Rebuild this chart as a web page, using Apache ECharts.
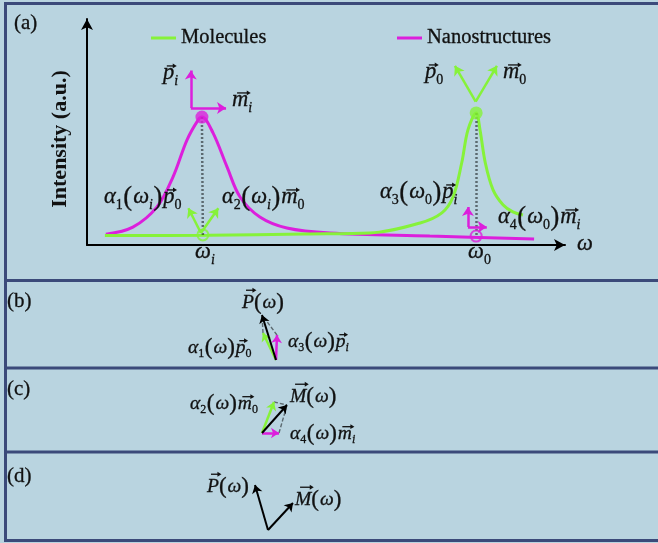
<!DOCTYPE html>
<html><head><meta charset="utf-8">
<script src="https://cdn.jsdelivr.net/npm/echarts@6/dist/echarts.min.js"></script>
<style>html,body{margin:0;padding:0;background:#b9d4e0}#c{width:658px;height:543px}</style>
</head><body><div id="c"></div>
<script>
// ---------------- data ----------------
// Panel (a): spectra (arbitrary units, x = ω, y = intensity)
const nanoCurve = [[3.9,4.7],[9.5,7.8],[14.5,16.6],[17.8,29.6],[20.7,45.7],[23.0,54.4],[23.8,55.7],[26.1,48.8],[29.0,34.0],[31.7,20.9],[35.8,12.2],[41.4,7.4],[50.3,5.2],[71.0,3.9],[92.6,2.6]];
const molCurve = [[3.7,4.1],[25,4.2],[45,4.8],[58.6,5.2],[69.0,9.6],[73.5,14.0],[75.8,20.9],[77.6,35.7],[78.9,50.1],[80.6,57.5],[81.4,50.1],[82.5,35.7],[84.1,24.0],[86.2,17.4],[88.2,14.4],[90.3,13.1]];
const nanoPeak = [23.8,55.7];
const molPeak = [80.6,57.5];
const molAtOmegaI = [24.0,4.4];
const nanoAtOmega0 = [80.6,3.9];
// dipole vectors in panel (a): [start, end]
const nanoVecsA = [[[21.5,59.7],[21.5,76.0]],[[21.5,59.7],[28.8,59.7]],[[78.9,7.8],[78.9,16.5]],[[78.9,7.8],[82.8,7.8]]];
const molVecsA = [[[23.6,5.2],[21.0,16.0]],[[23.6,5.2],[27.2,16.0]],[[80.5,62.4],[76.2,78.0]],[[80.5,62.4],[84.9,78.0]]];
// panels (b)-(d): vectors from the origin
const bP = [-14,45], bA1p0 = [-13,27], bA3pi = [1,25];
const cM = [25,28], cA2m0 = [12,31], cA4mi = [17,0];
const dP = [-13,45], dM = [25,27];

// ---------------- style ----------------
const GREEN = '#86f23a', MAG = '#dc1fdc', INK = '#111', BORDER = '#3b4a7a';
const SERIF = '"Liberation Serif", "Times New Roman", serif';

const mctx = document.createElement('canvas').getContext('2d');
function tok(t,o){return Object.assign({t},o||{});}
const it = t=>tok(t,{it:true}), rm = t=>tok(t,{}), sb = t=>tok(t,{sub:true}), sbi = t=>tok(t,{sub:true,it:true});
const vec = t=>tok(t,{it:true,vec:true}), Vec = t=>tok(t,{it:true,vec:true,cap:true});
const lp = tok('(',{big:true,gap:1}), rp = tok(')',{big:true,gap:1});
function mathLabel(x0, base, toks, fs){
  const els=[]; let x=x0;
  toks.forEach(p=>{
    const size = Math.round((p.sub ? fs*0.62 : p.big ? fs*1.18 : fs)*2)/2;
    const st = p.it ? 'italic' : 'normal';
    mctx.font = st+' normal '+size+'px '+SERIF;
    const w = mctx.measureText(p.t).width;
    const b = base + (p.sub ? fs*0.22 : p.big ? fs*0.08 : 0);
    els.push({type:'text', x:x, y:b-0.3375*size, z:50, style:{text:p.t, fontSize:size, fontStyle:st, fontFamily:SERIF, fill:INK, stroke:INK, lineWidth:0.3, align:'left', verticalAlign:'middle'}});
    if(p.vec){
      const ay = base - (p.cap?0.86:0.58)*fs - 2;
      const ax1 = x + w*0.25 + 1, ax2 = x + w + 1.5;
      els.push({type:'line', z:50, shape:{x1:ax1,y1:ay,x2:ax2-1,y2:ay}, style:{stroke:INK, lineWidth:1.3}});
      els.push({type:'polygon', z:50, shape:{points:[[ax2+1,ay],[ax2-3,ay-2.4],[ax2-3,ay+2.4]]}, style:{fill:INK}});
    }
    x += w + (p.gap||0) + (p.sub?0.5:0);
  });
  return els;
}
const A = 22.5, B = 19.5;
let labels = [];
labels = labels.concat(
  mathLabel(14,31,[rm('('),rm('a'),rm(')')],21),
  mathLabel(7,309,[rm('('),rm('b'),rm(')')],21),
  mathLabel(7,397,[rm('('),rm('c'),rm(')')],21),
  mathLabel(7,484,[rm('('),rm('d'),rm(')')],21),
  mathLabel(163,81,[vec('p'),sbi('i')],A),
  mathLabel(232,108,[vec('m'),sbi('i')],A),
  mathLabel(104,205,[it('α'),sb('1'),lp,it('ω'),sbi('i'),rp,vec('p'),sb('0')],A),
  mathLabel(222,205,[it('α'),sb('2'),lp,it('ω'),sbi('i'),rp,vec('m'),sb('0')],A),
  mathLabel(425,80,[vec('p'),sb('0')],A),
  mathLabel(503,80,[vec('m'),sb('0')],A),
  mathLabel(380,200,[it('α'),sb('3'),lp,it('ω'),sb('0'),rp,vec('p'),sbi('i')],A),
  mathLabel(498,225,[it('α'),sb('4'),lp,it('ω'),sb('0'),rp,vec('m'),sbi('i')],A),
  mathLabel(195,260,[it('ω'),sbi('i')],A),
  mathLabel(468,260,[it('ω'),sb('0')],A),
  mathLabel(577,252,[it('ω')],A),
  mathLabel(242,309,[Vec('P'),lp,it('ω'),rp],B),
  mathLabel(188,354,[it('α'),sb('1'),lp,it('ω'),rp,vec('p'),sb('0')],B),
  mathLabel(288,348,[it('α'),sb('3'),lp,it('ω'),rp,vec('p'),sbi('i')],B),
  mathLabel(290,403,[Vec('M'),lp,it('ω'),rp],B),
  mathLabel(190,410,[it('α'),sb('2'),lp,it('ω'),rp,vec('m'),sb('0')],B),
  mathLabel(290,440,[it('α'),sb('4'),lp,it('ω'),rp,vec('m'),sbi('i')],B),
  mathLabel(207,493,[Vec('P'),lp,it('ω'),rp],B),
  mathLabel(295,506,[Vec('M'),lp,it('ω'),rp],B)
);
const frame = [
  {type:'rect', z:1, shape:{x:5.5,y:3.5,width:660,height:537}, style:{fill:'none',stroke:BORDER,lineWidth:3}},
  {type:'line', z:1, shape:{x1:5,y1:280.5,x2:660,y2:280.5}, style:{stroke:BORDER,lineWidth:3}},
  {type:'line', z:1, shape:{x1:5,y1:368,x2:660,y2:368}, style:{stroke:BORDER,lineWidth:3}},
  {type:'line', z:1, shape:{x1:5,y1:452,x2:660,y2:452}, style:{stroke:BORDER,lineWidth:3}},
  {type:'text', z:50, x:60, y:139, rotation:Math.PI/2, style:{text:'Intensity (a.u.)', fontSize:22, fontWeight:'bold', fontFamily:SERIF, fill:INK, align:'center', verticalAlign:'middle'}}
];

const seg = (a,b)=>({coords:[a,b]});
const fromO = v=>({coords:[[0,0],v]});
const hiddenAxis = (min,max,gi)=>({type:'value', gridIndex:gi, min, max, show:false});
const vecStyle = (c,w)=>({color:c, width:w||2.5, opacity:1});
const legendText = {fontFamily:SERIF, fontSize:20.5, color:INK, lineHeight:22, textBorderColor:INK, textBorderWidth:0.3};

const chart = echarts.init(document.getElementById('c'));
chart.setOption({
  animation:false,
  backgroundColor:'#b9d4e0',
  legend:[
    {data:['Molecules'], left:146, top:22, icon:'rect', itemWidth:25, itemHeight:3, textStyle:legendText},
    {data:['Nanostructures'], left:392, top:22, icon:'rect', itemWidth:25, itemHeight:3, textStyle:legendText}
  ],
  grid:[
    {left:87, top:19, width:478, height:226},
    {left:0, top:283, width:658, height:83},
    {left:0, top:371, width:658, height:79},
    {left:0, top:455, width:658, height:82}
  ],
  xAxis:[
    {type:'value', gridIndex:0, min:0, max:99, axisLine:{show:true, symbol:['none','arrow'], symbolSize:[9,11], lineStyle:{color:'#000',width:2}}, axisTick:{show:false}, axisLabel:{show:false}, splitLine:{show:false}},
    hiddenAxis(-276,382,1), hiddenAxis(-262,396,2), hiddenAxis(-268,390,3)
  ],
  yAxis:[
    {type:'value', gridIndex:0, min:0, max:98.4, axisLine:{show:true, symbol:['none','arrow'], symbolSize:[9,11], lineStyle:{color:'#000',width:2}}, axisTick:{show:false}, axisLabel:{show:false}, splitLine:{show:false}},
    hiddenAxis(-6,77,1), hiddenAxis(-17,62,2), hiddenAxis(-7,75,3)
  ],
  graphic:{elements:frame.concat(labels)},
  series:[
    {name:'Nanostructures', type:'line', xAxisIndex:0, yAxisIndex:0, data:nanoCurve, smooth:0.35, showSymbol:false, color:MAG, lineStyle:{width:3,color:MAG}, z:3},
    {name:'Molecules', type:'line', xAxisIndex:0, yAxisIndex:0, data:molCurve, smooth:0.35, showSymbol:false, color:GREEN, lineStyle:{width:3,color:GREEN}, z:3},
    {type:'lines', coordinateSystem:'cartesian2d', xAxisIndex:0, yAxisIndex:0, data:[seg(nanoPeak,molAtOmegaI), seg(molPeak,nanoAtOmega0)], lineStyle:{color:'#000',width:2.5,type:[2,2]}, symbol:'none', z:4},
    {type:'scatter', xAxisIndex:0, yAxisIndex:0, data:[nanoPeak], symbolSize:13, itemStyle:{color:MAG}, z:6},
    {type:'scatter', xAxisIndex:0, yAxisIndex:0, data:[molPeak], symbolSize:13, itemStyle:{color:GREEN}, z:6},
    {type:'scatter', xAxisIndex:0, yAxisIndex:0, data:[molAtOmegaI], symbolSize:11, itemStyle:{color:'rgba(0,0,0,0)', borderColor:GREEN, borderWidth:2}, z:6},
    {type:'scatter', xAxisIndex:0, yAxisIndex:0, data:[nanoAtOmega0], symbolSize:11, itemStyle:{color:'rgba(0,0,0,0)', borderColor:MAG, borderWidth:2}, z:6},
    {type:'lines', coordinateSystem:'cartesian2d', xAxisIndex:0, yAxisIndex:0, data:nanoVecsA.map(v=>seg(v[0],v[1])), lineStyle:vecStyle(MAG), symbol:['none','arrow'], symbolSize:9, z:5},
    {type:'lines', coordinateSystem:'cartesian2d', xAxisIndex:0, yAxisIndex:0, data:molVecsA.map(v=>seg(v[0],v[1])), lineStyle:vecStyle(GREEN), symbol:['none','arrow'], symbolSize:9, z:5},
    // (b)
    {type:'lines', coordinateSystem:'cartesian2d', xAxisIndex:1, yAxisIndex:1, data:[seg(bA1p0,bP), seg(bA3pi,bP)], lineStyle:{color:'#000',width:1.4,type:[4,2]}, symbol:'none', z:4},
    {type:'lines', coordinateSystem:'cartesian2d', xAxisIndex:1, yAxisIndex:1, data:[fromO(bA1p0)], lineStyle:vecStyle(GREEN), symbol:['none','arrow'], symbolSize:8, z:5},
    {type:'lines', coordinateSystem:'cartesian2d', xAxisIndex:1, yAxisIndex:1, data:[fromO(bA3pi)], lineStyle:vecStyle(MAG), symbol:['none','arrow'], symbolSize:8, z:5},
    {type:'lines', coordinateSystem:'cartesian2d', xAxisIndex:1, yAxisIndex:1, data:[fromO(bP)], lineStyle:vecStyle('#000',2), symbol:['none','arrow'], symbolSize:8, z:6},
    // (c)
    {type:'lines', coordinateSystem:'cartesian2d', xAxisIndex:2, yAxisIndex:2, data:[seg(cA2m0,cM), seg(cA4mi,cM)], lineStyle:{color:'#000',width:1.4,type:[4,2]}, symbol:'none', z:4},
    {type:'lines', coordinateSystem:'cartesian2d', xAxisIndex:2, yAxisIndex:2, data:[fromO(cA2m0)], lineStyle:vecStyle(GREEN), symbol:['none','arrow'], symbolSize:8, z:5},
    {type:'lines', coordinateSystem:'cartesian2d', xAxisIndex:2, yAxisIndex:2, data:[fromO(cA4mi)], lineStyle:vecStyle(MAG), symbol:['none','arrow'], symbolSize:8, z:5},
    {type:'lines', coordinateSystem:'cartesian2d', xAxisIndex:2, yAxisIndex:2, data:[fromO(cM)], lineStyle:vecStyle('#000',2), symbol:['none','arrow'], symbolSize:8, z:6},
    // (d)
    {type:'lines', coordinateSystem:'cartesian2d', xAxisIndex:3, yAxisIndex:3, data:[fromO(dP), fromO(dM)], lineStyle:vecStyle('#000',2), symbol:['none','arrow'], symbolSize:8, z:6}
  ]
});
</script></body></html>
